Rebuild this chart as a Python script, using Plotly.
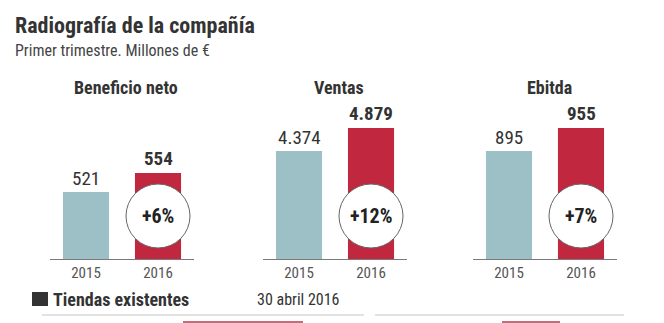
import plotly.graph_objects as go

# ---- data ----
panels = ["Beneficio neto", "Ventas", "Ebitda"]
years = ["2015", "2016"]
values_2015 = [521, 4374, 895]
values_2016 = [554, 4879, 955]
value_labels_2015 = ["521", "4.374", "895"]
value_labels_2016 = ["554", "4.879", "955"]
change_labels = ["+6%", "+12%", "+7%"]

W, H = 664, 323
TEAL = "#9dc0c6"
RED = "#c1283f"
FONT = "Liberation Sans Narrow, Roboto Condensed, Arial Narrow, sans-serif"

def px(x):
    return x / W

def py(y):
    return 1 - y / H

# panel layout (pixels)
panel_x = [(50, 194), (263, 407), (473, 617)]
base_px, top_px = 259, 100
y_ranges = [[404.6, 680.8], [2002, 5493], [613.2, 1028]]

fig = go.Figure()
annotations = []
shapes = []

for i in range(3):
    sfx = "" if i == 0 else str(i + 1)
    fig.add_trace(go.Bar(
        x=years, y=[values_2015[i], values_2016[i]],
        marker=dict(color=[TEAL, RED], line=dict(width=0)),
        width=0.64,
        xaxis="x" + sfx, yaxis="y" + sfx,
        showlegend=False, hoverinfo="skip",
    ))
    fig.update_layout(**{
        "xaxis" + sfx: dict(
            type="category",
            domain=[px(panel_x[i][0]), px(panel_x[i][1])],
            anchor="y" + sfx, range=[-0.5, 1.5],
            showline=True, linecolor="#7a7a7a", linewidth=1,
            showgrid=False, zeroline=False, ticks="",
            tickfont=dict(family=FONT, size=15, color="#555"),
            fixedrange=True,
        ),
        "yaxis" + sfx: dict(
            domain=[py(base_px), py(top_px)],
            anchor="x" + sfx, range=y_ranges[i], visible=False,
            fixedrange=True,
        ),
    })
    # panel title
    annotations.append(dict(
        text="<b>" + panels[i] + "</b>", xref="paper", yref="paper",
        x=px((panel_x[i][0] + panel_x[i][1]) / 2 + 4), y=py(87),
        xanchor="center", yanchor="middle", showarrow=False,
        font=dict(family=FONT, size=18, color="#333"),
    ))
    # value labels (category index 0 = 2015, 1 = 2016)
    annotations.append(dict(
        text=value_labels_2015[i], xref="x" + sfx, yref="y" + sfx,
        x=0, y=values_2015[i], yshift=13,
        xanchor="center", yanchor="middle", showarrow=False,
        font=dict(family=FONT, size=19, color="#333"),
    ))
    annotations.append(dict(
        text="<b>" + value_labels_2016[i] + "</b>", xref="x" + sfx, yref="y" + sfx,
        x=1, y=values_2016[i], yshift=14,
        xanchor="center", yanchor="middle", showarrow=False,
        font=dict(family=FONT, size=19, color="#333"),
    ))
    # circle with change
    shapes.append(dict(
        type="circle", xref="x" + sfx, yref="paper",
        xsizemode="pixel", xanchor=1, x0=-32, x1=32,
        ysizemode="pixel", yanchor=py(216), y0=-32, y1=32,
        fillcolor="white", line=dict(color="#666", width=1), layer="above",
    ))
    annotations.append(dict(
        text="<b>" + change_labels[i] + "</b>", xref="x" + sfx, yref="paper",
        x=1, y=py(216), xanchor="center", yanchor="middle",
        showarrow=False, font=dict(family=FONT, size=20, color="#222"),
    ))

# header
annotations.append(dict(
    text="<b>Radiografía de la compañía</b>", xref="paper", yref="paper",
    x=px(13), y=py(25), xanchor="left", yanchor="middle", showarrow=False,
    font=dict(family=FONT, size=22, color="#333"),
))
annotations.append(dict(
    text="Primer trimestre. Millones de €", xref="paper", yref="paper",
    x=px(13), y=py(50), xanchor="left", yanchor="middle", showarrow=False,
    font=dict(family=FONT, size=16, color="#444"),
))

# bottom section
shapes.append(dict(type="rect", xref="paper", yref="paper",
                   x0=px(32), x1=px(48), y0=py(306), y1=py(292),
                   fillcolor="#333", line=dict(width=0)))
annotations.append(dict(
    text="<b>Tiendas existentes</b>", xref="paper", yref="paper",
    x=px(51), y=py(299), xanchor="left", yanchor="middle", showarrow=False,
    font=dict(family=FONT, size=18, color="#333"),
))
annotations.append(dict(
    text="30 abril 2016", xref="paper", yref="paper",
    x=px(255), y=py(299), xanchor="left", yanchor="middle", showarrow=False,
    font=dict(family=FONT, size=16, color="#333"),
))
for x0, x1 in [(42, 364), (375, 624)]:
    shapes.append(dict(type="line", xref="paper", yref="paper",
                       x0=px(x0), x1=px(x1), y0=py(315), y1=py(315),
                       line=dict(color="#e2e2e2", width=2)))
for x0, x1 in [(183, 303), (502, 560)]:
    shapes.append(dict(type="rect", xref="paper", yref="paper",
                       x0=px(x0), x1=px(x1), y0=py(330), y1=py(321),
                       fillcolor="#c76a7a", line=dict(width=0)))

fig.update_layout(
    width=W, height=H,
    margin=dict(l=0, r=0, t=0, b=0),
    paper_bgcolor="white", plot_bgcolor="white",
    annotations=annotations, shapes=shapes,
    showlegend=False,
)

fig.write_html("out.html")
